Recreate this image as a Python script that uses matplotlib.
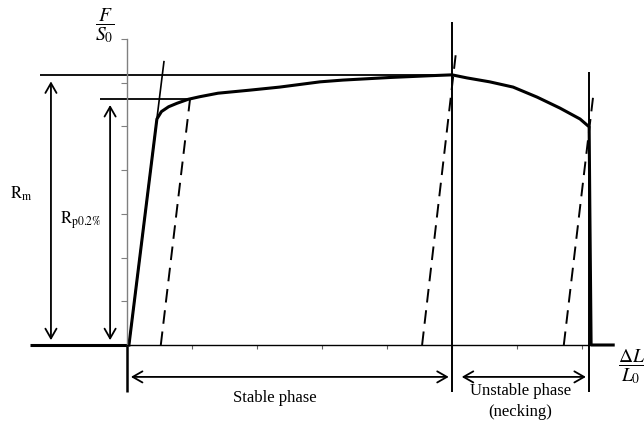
import matplotlib
matplotlib.use('Agg')
import matplotlib.pyplot as plt

plt.rcParams['font.family'] = ['Liberation Serif', 'DejaVu Serif']
plt.rcParams['mathtext.fontset'] = 'stix'

# engineering stress-strain curve (x in strain tick units, y in stress tick units)
curve_x = [0.03, 0.46, 0.53, 0.64, 0.77, 0.94, 1.12, 1.40, 1.89, 2.35, 2.97, 3.32,
           4.05, 4.66, 5.00, 5.23, 5.58, 5.94, 6.31, 6.66, 6.97, 7.11, 7.12, 7.14, 7.48]
curve_y = [0.00, 5.17, 5.34, 5.45, 5.53, 5.62, 5.68, 5.76, 5.83, 5.90, 6.02, 6.06,
           6.12, 6.16, 6.18, 6.11, 6.02, 5.90, 5.67, 5.42, 5.17, 4.99, 3.20, 0.00, 0.00]

Rm = 6.17        # tensile strength
Rp02 = 5.63      # 0.2% proof stress
x_uts = 5.0      # strain at max force
x_break = 7.11   # strain at fracture

# elastic line and parallel unloading lines
elastic_x = [0.03, 0.57]
elastic_y = [0.0, 6.5]
unload_lines = [([0.52, 0.97], [0.0, Rp02]),
                ([4.54, 5.06], [0.0, 6.68]),
                ([6.72, 7.17], [0.0, 5.67])]

fig = plt.figure(figsize=(6.44, 4.23), dpi=100)
ax = fig.add_axes([127/644, 78/423, 462/644, 306/423])
ax.set_xlim(0, 462/65)
ax.set_ylim(0, 7)

for s in ['top', 'right']:
    ax.spines[s].set_visible(False)
ax.spines['left'].set_color('#808080')
ax.spines['left'].set_linewidth(1.0)
ax.spines['bottom'].set_linewidth(1.0)
ax.set_xticks(range(1, 8))
ax.set_yticks(range(1, 8))
ax.set_xticklabels([])
ax.set_yticklabels([])
ax.tick_params(axis='y', direction='out', length=4, width=0.8, color='#808080')
ax.tick_params(axis='x', direction='out', length=3, width=0.8, color='#606060')

kw = dict(color='black', clip_on=False, solid_capstyle='butt')

# baseline left of the origin
ax.plot([-1.49, 0], [0, 0], lw=2.2, **kw)

# measured curve
ax.plot(curve_x, curve_y, lw=2.2, solid_joinstyle='round', color='black', clip_on=False)

# construction lines
ax.plot(elastic_x, elastic_y, lw=1.2, **kw)
for ux, uy in unload_lines:
    ax.plot(ux, uy, lw=1.4, ls=(0, (7, 4)), color='black', clip_on=False)
ax.plot([-1.34, x_uts], [Rm, Rm], lw=1.3, **kw)
ax.plot([-0.42, 0.97], [Rp02, Rp02], lw=1.3, **kw)

# vertical phase boundaries
ax.plot([0, 0], [0, -1.08], lw=1.8, **kw)
ax.plot([x_uts, x_uts], [7.39, -1.08], lw=1.4, **kw)
ax.plot([x_break, x_break], [6.25, -1.08], lw=1.4, **kw)

arrow = dict(arrowstyle='<->,head_length=0.7,head_width=0.4', lw=1.3,
             color='black', shrinkA=0, shrinkB=0)
ax.annotate('', xy=(-1.17, Rm - 0.14), xytext=(-1.17, 0.11),
            arrowprops=arrow, annotation_clip=False)
ax.annotate('', xy=(-0.26, Rp02 - 0.14), xytext=(-0.26, 0.11),
            arrowprops=arrow, annotation_clip=False)
ax.annotate('', xy=(0.06, -0.73), xytext=(4.95, -0.73),
            arrowprops=arrow, annotation_clip=False)
ax.annotate('', xy=(5.15, -0.73), xytext=(7.06, -0.73),
            arrowprops=arrow, annotation_clip=False)

ax.text(-1.63, 3.46, r'$\mathrm{R_m}$', fontsize=12, ha='center', va='center')
ax.text(-0.71, 2.86, r'$\mathrm{R_{p0.2\%}}$', fontsize=12, ha='center', va='center')
ax.text(2.28, -1.21, 'Stable phase', fontsize=12, ha='center', va='center')
ax.text(6.05, -1.05, 'Unstable phase', fontsize=12, ha='center', va='center')
ax.text(6.05, -1.53, '(necking)', fontsize=12, ha='center', va='center')

# axis titles
ax.text(-0.35, 7.30, r'$\dfrac{F}{S_0}$', fontsize=14, ha='center', va='center')
ax.text(7.76, -0.50, r'$\dfrac{\Delta L}{L_0}$', fontsize=14, ha='center', va='center')

fig.savefig('out.png', dpi=100)
